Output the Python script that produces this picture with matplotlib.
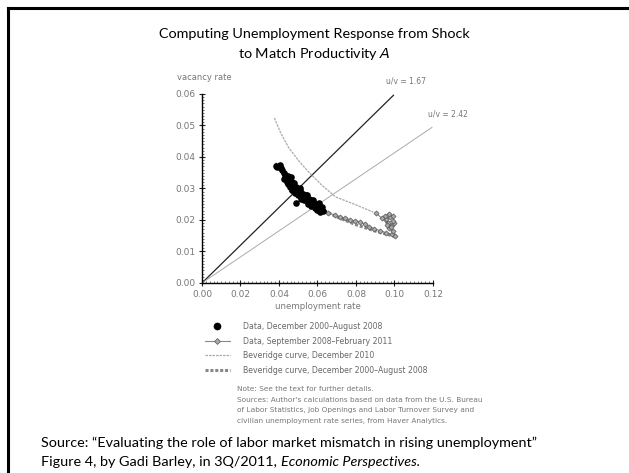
import matplotlib
matplotlib.use("Agg")
import matplotlib.pyplot as plt
from matplotlib.lines import Line2D
from matplotlib.ticker import MultipleLocator

# data (unemployment rate, vacancy rate)
pre_u = [0.0385, 0.0392, 0.0405, 0.0412, 0.0418, 0.0425, 0.0430, 0.0436, 0.0440, 0.0445,
         0.0450, 0.0452, 0.0458, 0.0462, 0.0466, 0.0470, 0.0475, 0.0480, 0.0484, 0.0490,
         0.0494, 0.0498, 0.0503, 0.0507, 0.0512, 0.0516, 0.0520, 0.0525, 0.0530, 0.0534,
         0.0538, 0.0543, 0.0548, 0.0552, 0.0556, 0.0560, 0.0565, 0.0570, 0.0575, 0.0580,
         0.0586, 0.0592, 0.0598, 0.0604, 0.0610, 0.0618, 0.0624, 0.0630, 0.0490, 0.0470,
         0.0428, 0.0440, 0.0455, 0.0468, 0.0482, 0.0500, 0.0515, 0.0532, 0.0550, 0.0568,
         0.0585, 0.0600, 0.0615, 0.0445, 0.0460, 0.0478, 0.0510, 0.0545, 0.0578, 0.0608]
pre_v = [0.0372, 0.0368, 0.0374, 0.0366, 0.0358, 0.0350, 0.0342, 0.0336, 0.0330, 0.0340,
         0.0325, 0.0318, 0.0332, 0.0312, 0.0322, 0.0305, 0.0314, 0.0300, 0.0293, 0.0306,
         0.0296, 0.0288, 0.0282, 0.0294, 0.0286, 0.0278, 0.0272, 0.0284, 0.0275, 0.0268,
         0.0280, 0.0263, 0.0272, 0.0260, 0.0268, 0.0255, 0.0262, 0.0250, 0.0258, 0.0246,
         0.0252, 0.0242, 0.0250, 0.0238, 0.0244, 0.0233, 0.0240, 0.0229, 0.0255, 0.0295,
         0.0330, 0.0322, 0.0305, 0.0296, 0.0285, 0.0278, 0.0268, 0.0262, 0.0252, 0.0244,
         0.0238, 0.0232, 0.0226, 0.0315, 0.0338, 0.0318, 0.0300, 0.0278, 0.0265, 0.0255]

post_u = [0.0630, 0.0655, 0.0690, 0.0717, 0.0745, 0.0770, 0.0795, 0.0820, 0.0845, 0.0870,
          0.0895, 0.0925, 0.0955, 0.0985, 0.1005, 0.0990, 0.0970, 0.0985, 0.1000, 0.0990,
          0.0965, 0.0955, 0.0975, 0.0990, 0.0970, 0.0950, 0.0960, 0.0980, 0.0935, 0.0905]
post_v = [0.0230, 0.0222, 0.0216, 0.0210, 0.0205, 0.0200, 0.0197, 0.0194, 0.0186, 0.0178,
          0.0172, 0.0166, 0.0160, 0.0155, 0.0150, 0.0165, 0.0175, 0.0183, 0.0190, 0.0198,
          0.0192, 0.0203, 0.0208, 0.0214, 0.0220, 0.0212, 0.0185, 0.0178, 0.0205, 0.0222]

bev2010_u = [0.0376, 0.0410, 0.0450, 0.0500, 0.0550, 0.0620, 0.0695, 0.0800, 0.0890]
bev2010_v = [0.0524, 0.0475, 0.0430, 0.0390, 0.0355, 0.0312, 0.0273, 0.0248, 0.0225]

bevpre_u = [0.038, 0.045, 0.050, 0.055, 0.060, 0.065, 0.070, 0.080, 0.090, 0.100]
bevpre_v = [0.038, 0.0325, 0.0292, 0.0265, 0.0243, 0.0225, 0.0210, 0.0185, 0.0165, 0.0148]

ray1_u = [0.0, 0.0995]
ray1_v = [0.0, 0.0596]
ray2_u = [0.0, 0.1195]
ray2_v = [0.0, 0.0494]

xticks = [0.00, 0.02, 0.04, 0.06, 0.08, 0.10, 0.12]
yticks = [0.00, 0.01, 0.02, 0.03, 0.04, 0.05, 0.06]

fig = plt.figure(figsize=(6.29, 4.73), dpi=100)
ax = fig.add_axes([0.3211, 0.4017, 0.3672, 0.3996])

ax.plot(ray1_u, ray1_v, color="#222222", lw=0.9, zorder=2)
ax.plot(ray2_u, ray2_v, color="#aaaaaa", lw=0.7, zorder=2)
ax.plot(bev2010_u, bev2010_v, color="#aaaaaa", lw=0.9, ls=(0, (2, 0.8)), zorder=2)
ax.plot(bevpre_u, bevpre_v, color="#888888", lw=2.2, ls=(0, (1, 0.6)), zorder=3)
ax.plot(post_u, post_v, color="#888888", lw=0.8, marker="D", ms=2.6,
        mfc="#aaaaaa", mec="#555555", mew=0.5, zorder=4)
ax.scatter(pre_u, pre_v, s=14, color="black", zorder=5)

ax.set_xlim(0, 0.12)
ax.set_ylim(0, 0.06)
ax.set_xticks(xticks)
ax.set_yticks(yticks)
ax.set_xticklabels(["%.2f" % t for t in xticks])
ax.set_yticklabels(["%.2f" % t for t in yticks])
ax.xaxis.set_minor_locator(MultipleLocator(0.002))
ax.yaxis.set_minor_locator(MultipleLocator(0.001))
ax.tick_params(which="major", direction="inout", length=4, width=0.8,
               labelsize=6.5, labelcolor="#777777", colors="#222222", pad=3)
ax.tick_params(which="minor", direction="in", length=1.5, width=0.5, colors="#444444")
for s in ["top", "right"]:
    ax.spines[s].set_visible(False)
for s in ["left", "bottom"]:
    ax.spines[s].set_linewidth(1.0)
ax.patch.set_alpha(0)

ax.text(0.0956, 0.0632, "u/v = 1.67", fontsize=5.5, color="#777777", clip_on=False)
ax.text(0.1174, 0.0530, "u/v = 2.42", fontsize=5.5, color="#777777", clip_on=False)
ax.set_xlabel("unemployment rate", fontsize=6.2, color="#777777", labelpad=2)
fig.text(177 / 629, 1 - 77 / 473, "vacancy rate", fontsize=6, color="#777777",
         va="center")

handles = [
    Line2D([], [], ls="none", marker="o", ms=4.5, color="black"),
    Line2D([], [], color="#888888", lw=0.8, marker="D", ms=3, mfc="#aaaaaa",
           mec="#555555", mew=0.5),
    Line2D([], [], color="#aaaaaa", lw=0.9, ls=(0, (2, 0.8))),
    Line2D([], [], color="#888888", lw=2.2, ls=(0, (1, 0.6))),
]
labels = [
    "Data, December 2000\u2013August 2008",
    "Data, September 2008\u2013February 2011",
    "Beveridge curve, December 2010",
    "Beveridge curve, December 2000\u2013August 2008",
]
leg = fig.legend(handles, labels, loc="upper left", bbox_to_anchor=(205 / 629, 1 - 322 / 473),
                 frameon=False, fontsize=5.6, handlelength=3.2, handletextpad=1.7,
                 labelspacing=0.72, borderaxespad=0, borderpad=0)
for t in leg.get_texts():
    t.set_color("#666666")

note = ("Note: See the text for further details.\n"
        "Sources: Author's calculations based on data from the U.S. Bureau\n"
        "of Labor Statistics, Job Openings and Labor Turnover Survey and\n"
        "civilian unemployment rate series, from Haver Analytics.")
fig.text(237 / 629, 1 - 386 / 473, note, fontsize=5.3, color="#777777", va="top",
         linespacing=1.9)

fig.text(0.5, 1 - 45 / 473, "Computing Unemployment Response from Shock\nto Match Productivity $\\it{A}$",
         ha="center", va="center", fontsize=10.4, family="Lato", linespacing=1.45)
fig.text(41 / 629, 1 - 443 / 473,
         "Source: \u201cEvaluating the role of labor market mismatch in rising unemployment\u201d",
         fontsize=10.4, family="Lato", va="center")
fig.text(41 / 629, 1 - 462 / 473, "Figure 4, by Gadi Barley, in 3Q/2011, ",
         fontsize=10.4, family="Lato", va="center")
src2 = fig.texts[-1]

# slide border (top and left edges visible)
fig.add_artist(Line2D([8 / 629, 8 / 629], [0, 1 - 8 / 473], color="black", lw=2.2,
                      transform=fig.transFigure))
fig.add_artist(Line2D([8 / 629, 1], [1 - 8 / 473, 1 - 8 / 473], color="black", lw=2.2,
                      transform=fig.transFigure))

fig.canvas.draw()
bb = src2.get_window_extent().transformed(fig.transFigure.inverted())
fig.text(bb.x1, 1 - 462 / 473, "Economic Perspectives.", fontsize=10.4, family="Lato",
         style="italic", va="center")

fig.savefig("out.png", dpi=100)
